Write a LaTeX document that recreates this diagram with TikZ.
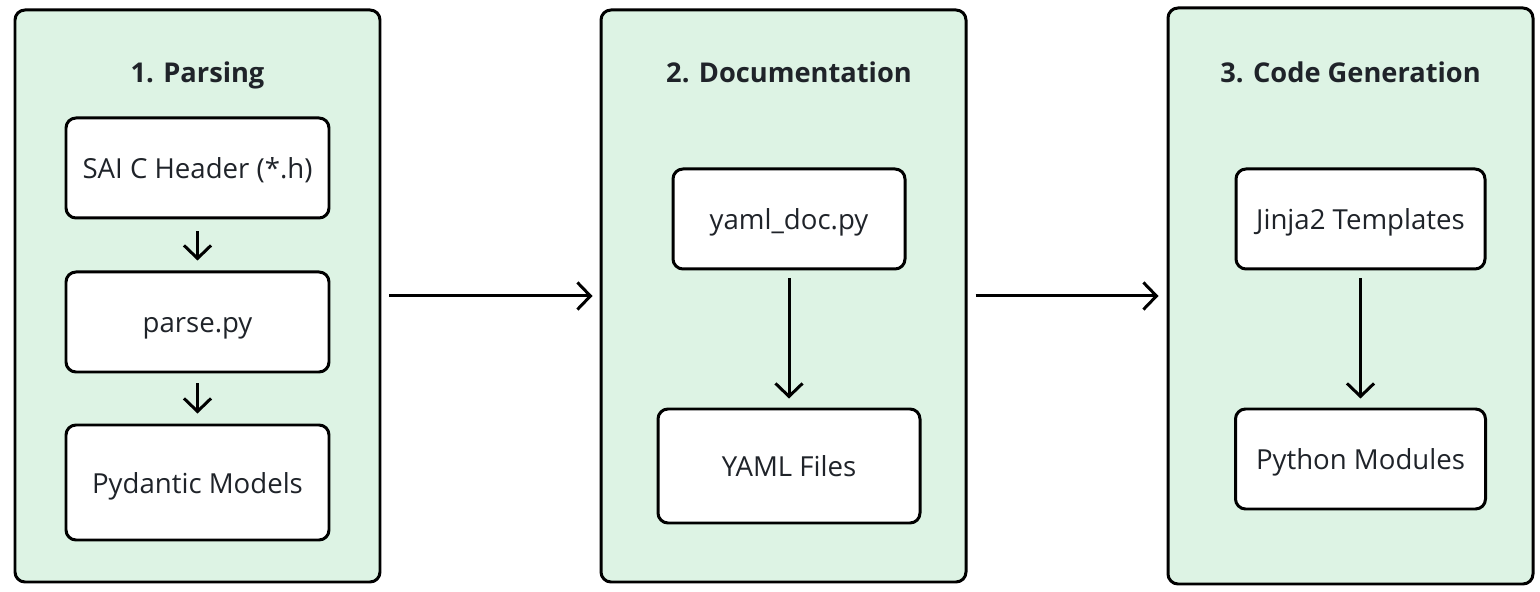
\documentclass[tikz,border=0pt]{standalone}
\usepackage{fontspec}
\setmainfont{Open Sans}
\usepackage{tikz}
\usetikzlibrary{arrows.meta, positioning}

\definecolor{stagegreen}{HTML}{DDF3E4}
\definecolor{inkgray}{HTML}{1F2329}

\begin{document}
\begin{tikzpicture}[
        stage/.style={draw=black, line width=1.7pt, rounded corners=0.2cm, fill=stagegreen, minimum width=7.3cm, minimum height=11.44cm},
        title/.style={font=\bfseries\fontsize{15.5}{18}\selectfont, text=inkgray, anchor=base},
        box/.style={draw=black, line width=1.7pt, rounded corners=0.2cm, fill=white, minimum height=2cm, text height=1.4em, text depth=0.16em, font=\fontsize{15.7}{18}\selectfont, text=inkgray},
        flow/.style={line width=1.7pt, -{Straight Barb[length=0.26cm, width=0.54cm, line width=1.7pt]}}
    ]
        \useasboundingbox (0,0) rectangle (30.8,11.84);

        % stages
        \node[stage] (parsing) at (3.95,5.92) {};
        \node[stage] (docs) at (15.67,5.92) {};
        \node[stage, minimum height=11.52cm] (codegen) at (27.01,5.92) {};

        \node[title] (t1) at (3.95,10.18) {1. Parsing};
        \node[title] (t2) at (15.78,10.18) {2. Documentation};
        \node[title] (t3) at (27.01,10.18) {3. Code Generation};

        % 1. Parsing
        \node[box, minimum width=5.26cm] (header) at (3.95,8.48) {SAI C Header (*.h)};
        \node[box, minimum width=5.26cm] (parse) at (3.95,5.40) {parse.py};
        \node[box, minimum width=5.26cm, minimum height=2.3cm] (models) at (3.95,2.19) {Pydantic Models};

        % 2. Documentation
        \node[box, minimum width=4.64cm] (yamldoc) at (15.78,7.46) {yaml\_doc.py};
        \node[box, minimum width=5.24cm, minimum height=2.28cm] (yamlfiles) at (15.78,2.52) {YAML Files};

        % 3. Code Generation
        \node[box, minimum width=4.98cm] (jinja) at (27.21,7.46) {Jinja2 Templates};
        \node[box, minimum width=5.0cm] (pymods) at (27.21,2.66) {Python Modules};

        \draw[flow, shorten <=0.24cm, shorten >=0.2cm] (header) -- (parse);
        \draw[flow, shorten <=0.2cm, shorten >=0.2cm] (parse) -- (models);
        \draw[flow, shorten <=0.16cm, shorten >=0.18cm] (yamldoc) -- (yamlfiles);
        \draw[flow, shorten <=0.16cm, shorten >=0.18cm] (jinja) -- (pymods);
        \draw[flow, shorten <=0.16cm, shorten >=0.14cm] (parsing) -- (docs);
        \draw[flow, shorten <=0.16cm, shorten >=0.16cm] (docs) -- (codegen);
    \end{tikzpicture}
\end{document}
